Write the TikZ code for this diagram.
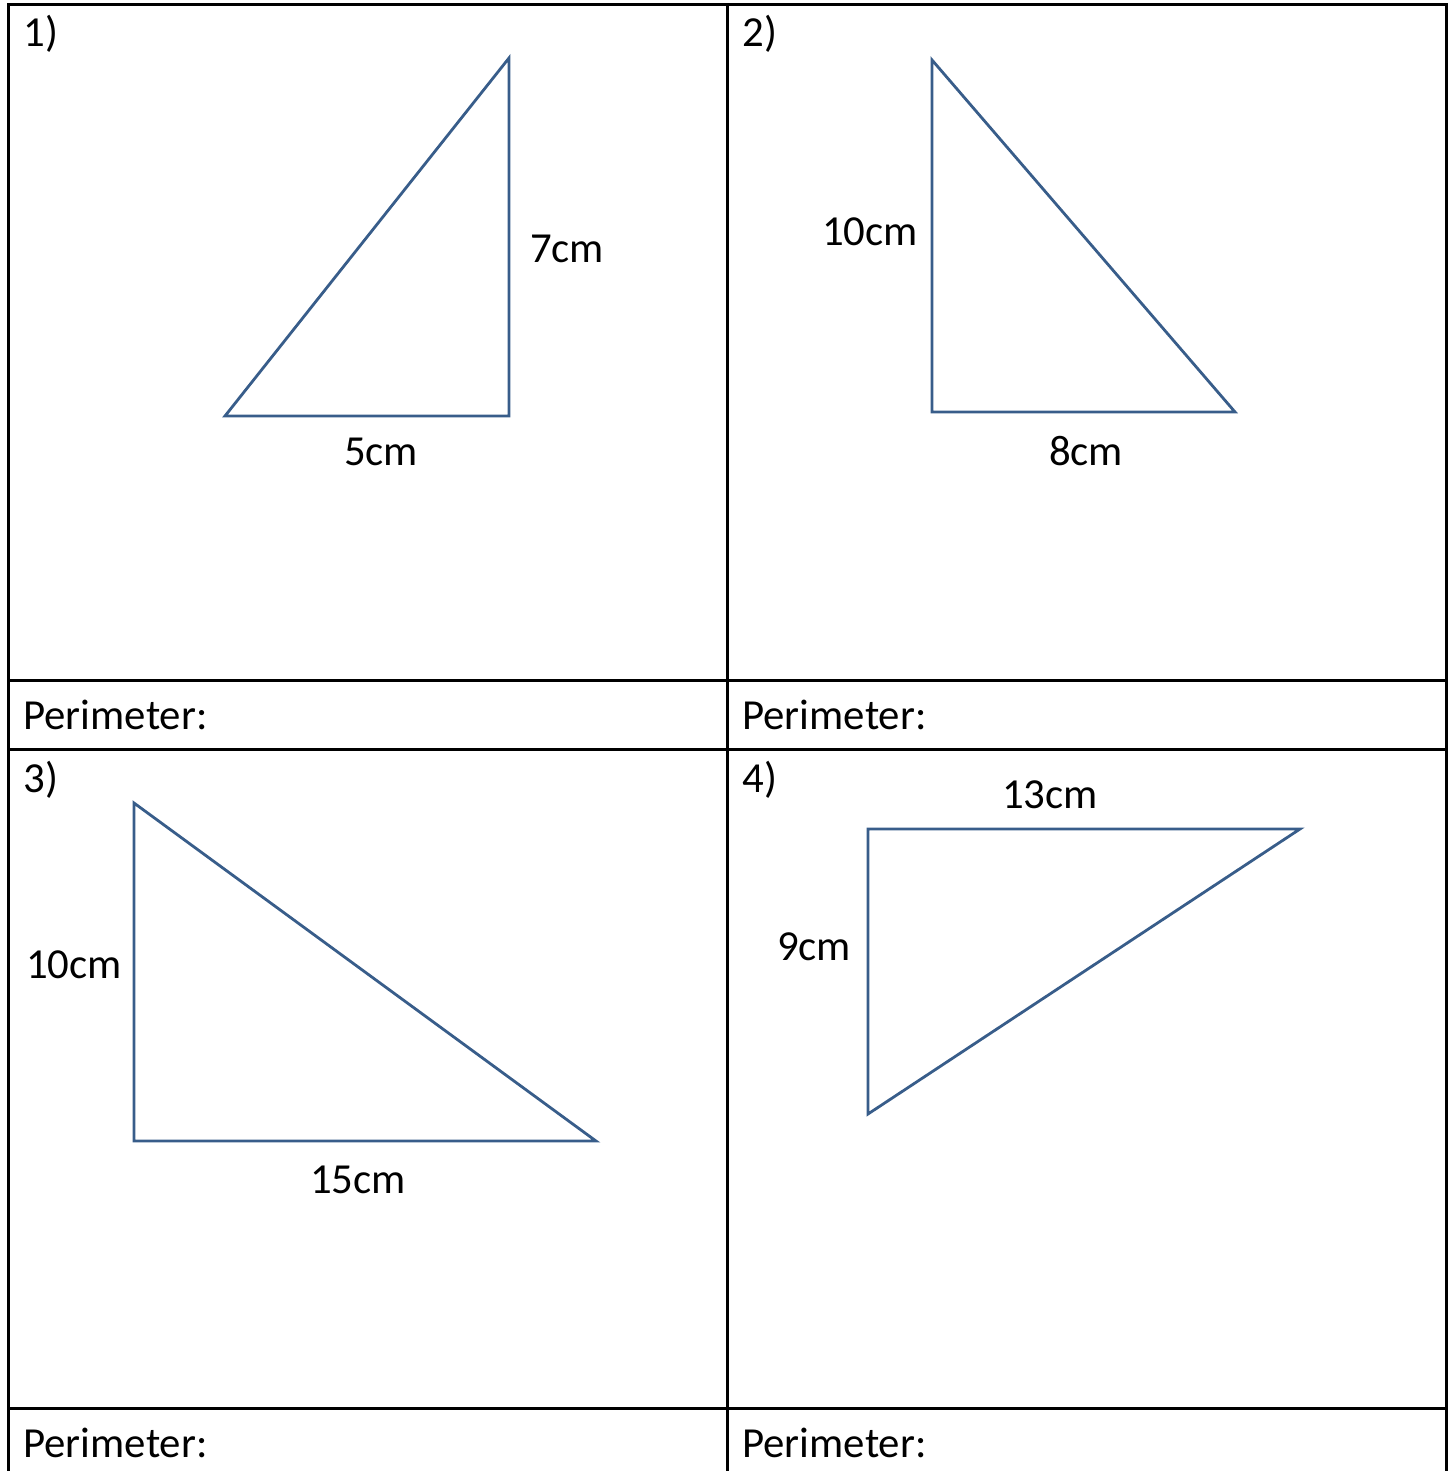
\documentclass[tikz,border=0pt]{standalone}
\usepackage{fontspec}
\setmainfont{Carlito}
\begin{document}
\begin{tikzpicture}[x=0.5pt,y=-0.5pt,
  grid/.style={line width=1.5pt,black},
  tri/.style={line width=1.4pt,draw={rgb,255:red,56;green,93;blue,138},line join=miter},
  lbl/.style={font=\fontsize{21.4pt}{25pt}\selectfont,inner sep=0pt,anchor=base},
  num/.style={lbl,anchor=base west}]
\useasboundingbox (0,0) rectangle (1450,1471);
% table grid
\coordinate (tl) at (8,5); \coordinate (tr) at (1446,5);
\coordinate (bl) at (8,1480); \coordinate (br) at (1446,1480);
\coordinate (tm) at (727,5); \coordinate (bm) at (727,1480);
\draw[grid] (bl) -- (tl) -- (tr) -- (br);
\draw[grid] (tm) -- (bm);
\draw[grid] (8,680) -- (1446,680);
\draw[grid] (8,749) -- (1446,749);
\draw[grid] (8,1408) -- (1446,1408);
% numbers
\node[num] (n1) at (23,47) {1)};
\node[num] (n2) at (742,47) {2)};
\node[num] (n3) at (23,792) {3)};
\node[num] (n4) at (742,792) {4)};
\node[num] (p1) at (23,729) {Perimeter:};
\node[num] (p2) at (742,729) {Perimeter:};
\node[num] (p3) at (23,1457) {Perimeter:};
\node[num] (p4) at (742,1457) {Perimeter:};
% triangle 1
\coordinate (a1) at (225,416); \coordinate (b1) at (509,416); \coordinate (c1) at (509,58);
\draw[tri] (a1) -- (b1) -- (c1) -- cycle;
\node[lbl] (l1a) at (567,263) {7cm};
\node[lbl] (l1b) at (381,465) {5cm};
% triangle 2
\coordinate (a2) at (932,60); \coordinate (b2) at (932,412); \coordinate (c2) at (1235,412);
\draw[tri] (a2) -- (b2) -- (c2) -- cycle;
\node[lbl] (l2a) at (870,246) {10cm};
\node[lbl] (l2b) at (1086,465) {8cm};
% triangle 3
\coordinate (a3) at (134,803); \coordinate (b3) at (134,1141); \coordinate (c3) at (596,1141);
\draw[tri] (a3) -- (b3) -- (c3) -- cycle;
\node[lbl] (l3a) at (74,978) {10cm};
\node[lbl] (l3b) at (358,1193) {15cm};
% triangle 4
\coordinate (a4) at (868,829); \coordinate (b4) at (1300,829); \coordinate (c4) at (868,1114);
\draw[tri] (a4) -- (b4) -- (c4) -- cycle;
\node[lbl] (l4a) at (1050,808) {13cm};
\node[lbl] (l4b) at (814,960) {9cm};
\end{tikzpicture}
\end{document}
